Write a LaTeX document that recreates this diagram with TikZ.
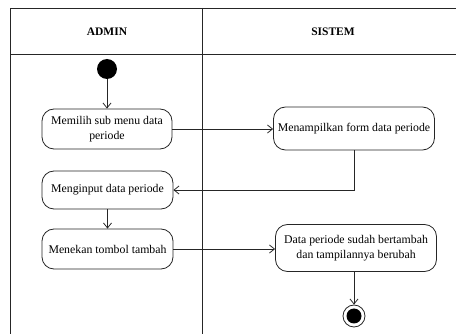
\documentclass[tikz,border=0pt]{standalone}
\usepackage{fontspec}
\setmainfont{Liberation Serif}
\usetikzlibrary{arrows.meta}
\begin{document}
\begin{tikzpicture}[x=1pt,y=-1pt,
  lane/.style={draw=black!85, line width=0.9pt},
  act/.style={draw=black!85, line width=0.8pt, rounded corners=12pt, inner sep=0pt, align=center,
    font=\fontsize{11.8}{15.5}\selectfont},
  hdr/.style={font=\fontsize{11.5}{13}\selectfont\bfseries},
  flow/.style={draw=black!85, line width=0.8pt, -{Straight Barb[length=5pt,width=8pt]}}]
\useasboundingbox (0,0) rectangle (456,334);
\clip (0,0) rectangle (456,334);
% swimlanes
\draw[lane] (10,340) -- (10,8) -- (470,8);
\draw[lane] (10,54) -- (470,54);
\draw[lane] (202,8) -- (202,340);
\node[hdr] (hA) at (107,32) {ADMIN};
\node[hdr] (hS) at (333,32) {SISTEM};
% start / end
\node[circle, fill=black, minimum size=20pt, inner sep=0pt] (start) at (107,69) {};
\node[circle, draw=black!85, line width=0.8pt, minimum size=22pt, inner sep=0pt] (endo) at (354,316) {};
\node[circle, fill=black, minimum size=15pt, inner sep=0pt] (endi) at (354,316) {};
% activities
\node[act, minimum width=130pt, minimum height=40pt] (a1) at (107,129) {Memilih sub menu data\\periode};
\node[act, minimum width=161pt, minimum height=43pt] (a2) at (354,128.5) {Menampilkan form data periode};
\node[act, minimum width=131pt, minimum height=38pt] (a3) at (107.5,190) {Menginput data periode};
\node[act, minimum width=131pt, minimum height=40pt] (a4) at (107.5,249) {Menekan tombol tambah};
\node[act, minimum width=161pt, minimum height=47pt] (a5) at (356,248) {Data periode sudah bertambah\\dan tampilannya berubah};
% flows
\draw[flow] (start) -- (a1.north -| start);
\draw[flow] (a1.east) -- (a1.east -| a2.west);
\draw[flow] (a2.south) |- (a3.east);
\draw[flow] (a3.south) -- (a4.north);
\draw[flow] (a4.east) -- (a4.east -| a5.west);
\draw[flow] (a5.south -| endo) -- (endo.north);
\end{tikzpicture}
\end{document}
